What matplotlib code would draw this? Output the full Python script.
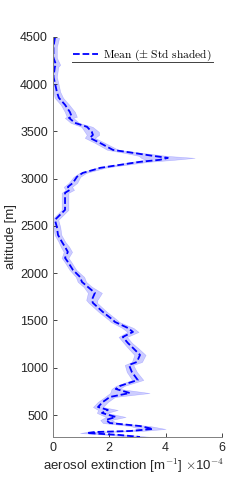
import numpy as np
import matplotlib
matplotlib.use("Agg")
import matplotlib.pyplot as plt

# altitude [m] and mean aerosol extinction [x1e-4 m^-1]
altitude = [4489, 4394, 4278, 4204, 4183, 4077, 4013, 3918, 3855, 3781,
            3706, 3654, 3643, 3590, 3548, 3495, 3463, 3431, 3378, 3304,
            3273, 3241, 3220, 3199, 3178, 3146, 3114, 3103, 3061, 3019,
            2955, 2913, 2881, 2850, 2744, 2670, 2596, 2564, 2490, 2405,
            2331, 2278, 2225, 2162, 2120, 2035, 1961, 1908, 1855, 1792,
            1717, 1686, 1591, 1506, 1485, 1421, 1379, 1326, 1262, 1210,
            1136, 1061, 1030, 956, 871, 808, 776, 733, 691, 638,
            585, 554, 522, 480, 448, 416, 384, 353, 331, 321,
            310, 289, 268]
mean_ext = [0.07, 0.02, 0.02, 0.11, 0.07, 0.02, 0.07, 0.14, 0.21, 0.43,
            0.60, 0.67, 0.57, 0.78, 1.21, 1.38, 1.42, 1.31, 1.67, 2.13,
            2.84, 3.55, 4.08, 3.79, 3.09, 2.38, 1.67, 1.56, 1.06, 0.85,
            0.71, 0.53, 0.60, 0.43, 0.43, 0.43, 0.18, 0.07, 0.14, 0.18,
            0.32, 0.43, 0.53, 0.43, 0.53, 0.71, 0.96, 1.03, 1.24, 1.49,
            1.38, 1.42, 1.77, 2.13, 2.20, 2.66, 2.84, 2.48, 2.66, 2.84,
            3.09, 2.98, 2.70, 2.80, 3.01, 2.38, 2.23, 2.73, 2.02, 1.77,
            1.60, 1.95, 1.74, 2.23, 1.88, 2.02, 3.09, 3.55, 2.73, 1.49,
            1.21, 2.38, 3.09]
std_ext = [0.15, 0.12, 0.12, 0.15, 0.12, 0.12, 0.12, 0.12, 0.15, 0.15,
           0.18, 0.18, 0.15, 0.15, 0.20, 0.25, 0.22, 0.18, 0.18, 0.20,
           0.30, 0.50, 0.95, 0.50, 0.30, 0.20, 0.15, 0.15, 0.12, 0.12,
           0.15, 0.15, 0.15, 0.12, 0.12, 0.12, 0.12, 0.12, 0.12, 0.12,
           0.12, 0.15, 0.15, 0.12, 0.12, 0.12, 0.15, 0.15, 0.15, 0.25,
           0.20, 0.15, 0.15, 0.15, 0.15, 0.20, 0.20, 0.15, 0.15, 0.18,
           0.20, 0.18, 0.15, 0.18, 0.20, 0.15, 0.15, 0.70, 0.18, 0.18,
           0.18, 0.35, 0.18, 0.35, 0.20, 0.25, 0.35, 0.45, 0.40, 0.30,
           0.25, 0.35, 0.40]

x_ticks = [0, 2, 4, 6]
y_ticks = [500, 1000, 1500, 2000, 2500, 3000, 3500, 4000, 4500]

alt = np.array(altitude)
m = np.array(mean_ext)
s = np.array(std_ext)

plt.rcParams['font.family'] = ['Liberation Sans', 'DejaVu Sans']
plt.rcParams['mathtext.fontset'] = 'cm'

fig = plt.figure(figsize=(2.45, 4.91), dpi=100)
ax = fig.add_axes([0.216, 0.110, 0.690, 0.815])

# shaded +/- std band, then the dashed mean
ax.fill_betweenx(alt, m - s, m + s, color='#0000ff', alpha=0.2,
                 edgecolor='#0000ff', linewidth=0.4)
ax.plot(m, alt, '--', color='#0000ff', lw=1.3, label=r'$\mathrm{Mean\ (\pm\ Std\ shaded)}$')

ax.set_xlim(0, 6)
ax.set_ylim(268, 4500)
ax.set_xticks(x_ticks)
ax.set_yticks(y_ticks)
ax.tick_params(direction='in', length=3, labelsize=9, colors='#262626', width=0.6)
for side in ['top', 'right']:
    ax.spines[side].set_visible(False)
for side in ['left', 'bottom']:
    ax.spines[side].set_color('#808080')
    ax.spines[side].set_linewidth(0.7)

ax.set_ylabel('altitude [m]', fontsize=9.5, color='#262626', labelpad=2)
fig.text(0.175, 0.051, r'aerosol extinction [m$^{-1}$] $\times$10$^{-4}$',
         fontsize=9.5, color='#262626', ha='left', va='center')

leg = ax.legend(loc='upper left', bbox_to_anchor=(0.09, 0.985), frameon=False,
                fontsize=8.3, handlelength=2.2, handletextpad=0.4, borderaxespad=0)
ax.plot([0.112, 0.947], [0.9375, 0.9375], transform=ax.transAxes,
        color='#404040', lw=0.7, clip_on=False)

fig.savefig('out.png', dpi=100)
